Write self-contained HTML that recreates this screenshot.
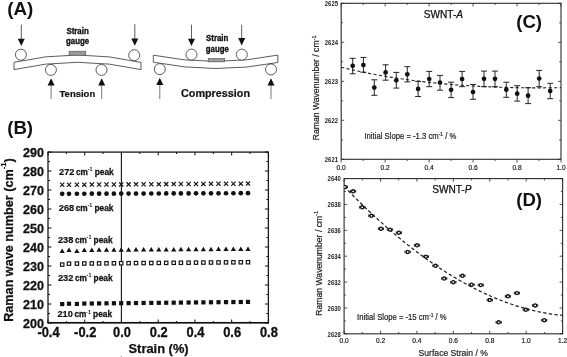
<!DOCTYPE html><html><head><meta charset="utf-8"><style>
html,body{margin:0;padding:0;background:#fff;width:567px;height:357px;overflow:hidden}
svg{display:block;will-change:transform}
text{font-family:"Liberation Sans",sans-serif}
</style></head><body>
<svg width="567" height="357" viewBox="0 0 567 357">
<rect width="567" height="357" fill="#fff"/>
<text x="7.20" y="15.10" font-size="18.8" font-weight="bold" text-anchor="start" fill="#111" >(A)</text>
<path d="M14,62.3 Q77.5,47.7 141,62.4 L141,69.6 Q77.5,55 14,69.6 Z" fill="#fff" stroke="#333" stroke-width="0.8"/>
<rect x="69" y="51.2" width="16.8" height="4" fill="#9a9a9a" stroke="#555" stroke-width="0.6"/>
<circle cx="20.9" cy="54.7" r="5.5" fill="#fff" stroke="#333" stroke-width="0.8"/>
<circle cx="134.2" cy="55.2" r="5.5" fill="#fff" stroke="#333" stroke-width="0.8"/>
<circle cx="50.9" cy="69.9" r="5.5" fill="#fff" stroke="#333" stroke-width="0.8"/>
<circle cx="101.5" cy="69.9" r="5.5" fill="#fff" stroke="#333" stroke-width="0.8"/>
<line x1="21.3" y1="24.5" x2="21.3" y2="40.1" stroke="#333" stroke-width="0.8"/>
<path d="M17.8,38.800000000000004 L24.8,38.800000000000004 L21.3,46.1 Z" fill="#111"/>
<line x1="134.8" y1="24.2" x2="134.8" y2="39.8" stroke="#333" stroke-width="0.8"/>
<path d="M131.3,38.5 L138.3,38.5 L134.8,45.8 Z" fill="#111"/>
<line x1="51.1" y1="99" x2="51.1" y2="84.3" stroke="#555" stroke-width="0.8"/>
<path d="M47.6,85.6 L54.6,85.6 L51.1,78.3 Z" fill="#111"/>
<line x1="101.7" y1="99" x2="101.7" y2="84.3" stroke="#555" stroke-width="0.8"/>
<path d="M98.2,85.6 L105.2,85.6 L101.7,78.3 Z" fill="#111"/>
<text transform="translate(66.40,33.80) scale(0.93,1)" font-size="8.5" font-weight="bold" stroke="#111" stroke-width="0.35" text-anchor="start" fill="#111" >Strain</text>
<text transform="translate(66.10,44.30) scale(0.93,1)" font-size="8.4" font-weight="bold" stroke="#111" stroke-width="0.35" text-anchor="start" fill="#111" >gauge</text>
<text x="59.50" y="96.50" font-size="9.5" font-weight="bold" stroke="#111" stroke-width="0.2" text-anchor="start" fill="#111" >Tension</text>
<path d="M153.3,55.2 Q215.5,67.65 277.8,55.1 L277.8,62.5 Q215.5,74.65 153.3,62.2 Z" fill="#fff" stroke="#333" stroke-width="0.8"/>
<rect x="208.2" y="58.3" width="16.5" height="3.6" fill="#9a9a9a" stroke="#555" stroke-width="0.6"/>
<circle cx="191.5" cy="54.6" r="5.5" fill="#fff" stroke="#333" stroke-width="0.8"/>
<circle cx="241.8" cy="54.6" r="5.5" fill="#fff" stroke="#333" stroke-width="0.8"/>
<circle cx="159.8" cy="69.1" r="5.5" fill="#fff" stroke="#333" stroke-width="0.8"/>
<circle cx="271" cy="69.4" r="5.5" fill="#fff" stroke="#333" stroke-width="0.8"/>
<line x1="191.5" y1="24.7" x2="191.5" y2="40.0" stroke="#333" stroke-width="0.8"/>
<path d="M188.0,38.7 L195.0,38.7 L191.5,46.0 Z" fill="#111"/>
<line x1="241.7" y1="24.7" x2="241.7" y2="39.4" stroke="#333" stroke-width="0.8"/>
<path d="M238.2,38.1 L245.2,38.1 L241.7,45.4 Z" fill="#111"/>
<line x1="159.8" y1="99" x2="159.8" y2="83.7" stroke="#555" stroke-width="0.8"/>
<path d="M156.3,85.0 L163.3,85.0 L159.8,77.7 Z" fill="#111"/>
<line x1="271" y1="99" x2="271" y2="84.3" stroke="#555" stroke-width="0.8"/>
<path d="M267.5,85.6 L274.5,85.6 L271,78.3 Z" fill="#111"/>
<text transform="translate(206.00,41.00) scale(0.93,1)" font-size="8.5" font-weight="bold" stroke="#111" stroke-width="0.35" text-anchor="start" fill="#111" >Strain</text>
<text transform="translate(205.80,52.20) scale(0.93,1)" font-size="8.4" font-weight="bold" stroke="#111" stroke-width="0.35" text-anchor="start" fill="#111" >gauge</text>
<text x="181.00" y="96.70" font-size="10.8" font-weight="bold" stroke="#111" stroke-width="0.2" text-anchor="start" fill="#111" >Compression</text>
<text x="7.20" y="133.70" font-size="18.6" font-weight="bold" text-anchor="start" fill="#111" >(B)</text>
<rect x="48.0" y="152.1" width="220.39999999999998" height="170.50000000000003" fill="none" stroke="#1a1a1a" stroke-width="1.3"/>
<line x1="47.4" y1="322.7" x2="269.0" y2="322.7" stroke="#111" stroke-width="1.6"/>
<line x1="48.0" y1="323.00" x2="51.5" y2="323.00" stroke="#111" stroke-width="1"/>
<line x1="268.4" y1="323.00" x2="264.9" y2="323.00" stroke="#111" stroke-width="1"/>
<text transform="translate(44.00,327.75) scale(0.95,1)" font-size="13.2" font-weight="bold" stroke="#111" stroke-width="0.3" text-anchor="end" fill="#111" >200</text>
<line x1="48.0" y1="313.50" x2="50.0" y2="313.50" stroke="#111" stroke-width="1"/>
<line x1="268.4" y1="313.50" x2="266.4" y2="313.50" stroke="#111" stroke-width="1"/>
<line x1="48.0" y1="304.00" x2="51.5" y2="304.00" stroke="#111" stroke-width="1"/>
<line x1="268.4" y1="304.00" x2="264.9" y2="304.00" stroke="#111" stroke-width="1"/>
<text transform="translate(44.00,308.75) scale(0.95,1)" font-size="13.2" font-weight="bold" stroke="#111" stroke-width="0.3" text-anchor="end" fill="#111" >210</text>
<line x1="48.0" y1="294.50" x2="50.0" y2="294.50" stroke="#111" stroke-width="1"/>
<line x1="268.4" y1="294.50" x2="266.4" y2="294.50" stroke="#111" stroke-width="1"/>
<line x1="48.0" y1="285.00" x2="51.5" y2="285.00" stroke="#111" stroke-width="1"/>
<line x1="268.4" y1="285.00" x2="264.9" y2="285.00" stroke="#111" stroke-width="1"/>
<text transform="translate(44.00,289.75) scale(0.95,1)" font-size="13.2" font-weight="bold" stroke="#111" stroke-width="0.3" text-anchor="end" fill="#111" >220</text>
<line x1="48.0" y1="275.50" x2="50.0" y2="275.50" stroke="#111" stroke-width="1"/>
<line x1="268.4" y1="275.50" x2="266.4" y2="275.50" stroke="#111" stroke-width="1"/>
<line x1="48.0" y1="266.00" x2="51.5" y2="266.00" stroke="#111" stroke-width="1"/>
<line x1="268.4" y1="266.00" x2="264.9" y2="266.00" stroke="#111" stroke-width="1"/>
<text transform="translate(44.00,270.75) scale(0.95,1)" font-size="13.2" font-weight="bold" stroke="#111" stroke-width="0.3" text-anchor="end" fill="#111" >230</text>
<line x1="48.0" y1="256.50" x2="50.0" y2="256.50" stroke="#111" stroke-width="1"/>
<line x1="268.4" y1="256.50" x2="266.4" y2="256.50" stroke="#111" stroke-width="1"/>
<line x1="48.0" y1="247.00" x2="51.5" y2="247.00" stroke="#111" stroke-width="1"/>
<line x1="268.4" y1="247.00" x2="264.9" y2="247.00" stroke="#111" stroke-width="1"/>
<text transform="translate(44.00,251.75) scale(0.95,1)" font-size="13.2" font-weight="bold" stroke="#111" stroke-width="0.3" text-anchor="end" fill="#111" >240</text>
<line x1="48.0" y1="237.50" x2="50.0" y2="237.50" stroke="#111" stroke-width="1"/>
<line x1="268.4" y1="237.50" x2="266.4" y2="237.50" stroke="#111" stroke-width="1"/>
<line x1="48.0" y1="228.00" x2="51.5" y2="228.00" stroke="#111" stroke-width="1"/>
<line x1="268.4" y1="228.00" x2="264.9" y2="228.00" stroke="#111" stroke-width="1"/>
<text transform="translate(44.00,232.75) scale(0.95,1)" font-size="13.2" font-weight="bold" stroke="#111" stroke-width="0.3" text-anchor="end" fill="#111" >250</text>
<line x1="48.0" y1="218.50" x2="50.0" y2="218.50" stroke="#111" stroke-width="1"/>
<line x1="268.4" y1="218.50" x2="266.4" y2="218.50" stroke="#111" stroke-width="1"/>
<line x1="48.0" y1="209.00" x2="51.5" y2="209.00" stroke="#111" stroke-width="1"/>
<line x1="268.4" y1="209.00" x2="264.9" y2="209.00" stroke="#111" stroke-width="1"/>
<text transform="translate(44.00,213.75) scale(0.95,1)" font-size="13.2" font-weight="bold" stroke="#111" stroke-width="0.3" text-anchor="end" fill="#111" >260</text>
<line x1="48.0" y1="199.50" x2="50.0" y2="199.50" stroke="#111" stroke-width="1"/>
<line x1="268.4" y1="199.50" x2="266.4" y2="199.50" stroke="#111" stroke-width="1"/>
<line x1="48.0" y1="190.00" x2="51.5" y2="190.00" stroke="#111" stroke-width="1"/>
<line x1="268.4" y1="190.00" x2="264.9" y2="190.00" stroke="#111" stroke-width="1"/>
<text transform="translate(44.00,194.75) scale(0.95,1)" font-size="13.2" font-weight="bold" stroke="#111" stroke-width="0.3" text-anchor="end" fill="#111" >270</text>
<line x1="48.0" y1="180.50" x2="50.0" y2="180.50" stroke="#111" stroke-width="1"/>
<line x1="268.4" y1="180.50" x2="266.4" y2="180.50" stroke="#111" stroke-width="1"/>
<line x1="48.0" y1="171.00" x2="51.5" y2="171.00" stroke="#111" stroke-width="1"/>
<line x1="268.4" y1="171.00" x2="264.9" y2="171.00" stroke="#111" stroke-width="1"/>
<text transform="translate(44.00,175.75) scale(0.95,1)" font-size="13.2" font-weight="bold" stroke="#111" stroke-width="0.3" text-anchor="end" fill="#111" >280</text>
<line x1="48.0" y1="161.50" x2="50.0" y2="161.50" stroke="#111" stroke-width="1"/>
<line x1="268.4" y1="161.50" x2="266.4" y2="161.50" stroke="#111" stroke-width="1"/>
<line x1="48.0" y1="152.00" x2="51.5" y2="152.00" stroke="#111" stroke-width="1"/>
<line x1="268.4" y1="152.00" x2="264.9" y2="152.00" stroke="#111" stroke-width="1"/>
<text transform="translate(44.00,156.75) scale(0.95,1)" font-size="13.2" font-weight="bold" stroke="#111" stroke-width="0.3" text-anchor="end" fill="#111" >290</text>
<line x1="48.00" y1="323.0" x2="48.00" y2="319.5" stroke="#111" stroke-width="1"/>
<line x1="48.00" y1="152.0" x2="48.00" y2="155.5" stroke="#111" stroke-width="1"/>
<text transform="translate(48.50,337.20) scale(0.935,1)" font-size="13.8" font-weight="bold" stroke="#111" stroke-width="0.3" text-anchor="middle" fill="#111" >-0.4</text>
<line x1="66.37" y1="323.0" x2="66.37" y2="321.0" stroke="#111" stroke-width="1"/>
<line x1="66.37" y1="152.0" x2="66.37" y2="154.0" stroke="#111" stroke-width="1"/>
<line x1="84.73" y1="323.0" x2="84.73" y2="319.5" stroke="#111" stroke-width="1"/>
<line x1="84.73" y1="152.0" x2="84.73" y2="155.5" stroke="#111" stroke-width="1"/>
<text transform="translate(85.23,337.20) scale(0.935,1)" font-size="13.8" font-weight="bold" stroke="#111" stroke-width="0.3" text-anchor="middle" fill="#111" >-0.2</text>
<line x1="103.10" y1="323.0" x2="103.10" y2="321.0" stroke="#111" stroke-width="1"/>
<line x1="103.10" y1="152.0" x2="103.10" y2="154.0" stroke="#111" stroke-width="1"/>
<line x1="121.47" y1="323.0" x2="121.47" y2="319.5" stroke="#111" stroke-width="1"/>
<line x1="121.47" y1="152.0" x2="121.47" y2="155.5" stroke="#111" stroke-width="1"/>
<text transform="translate(121.97,337.20) scale(0.935,1)" font-size="13.8" font-weight="bold" stroke="#111" stroke-width="0.3" text-anchor="middle" fill="#111" >0.0</text>
<line x1="139.83" y1="323.0" x2="139.83" y2="321.0" stroke="#111" stroke-width="1"/>
<line x1="139.83" y1="152.0" x2="139.83" y2="154.0" stroke="#111" stroke-width="1"/>
<line x1="158.20" y1="323.0" x2="158.20" y2="319.5" stroke="#111" stroke-width="1"/>
<line x1="158.20" y1="152.0" x2="158.20" y2="155.5" stroke="#111" stroke-width="1"/>
<text transform="translate(158.70,337.20) scale(0.935,1)" font-size="13.8" font-weight="bold" stroke="#111" stroke-width="0.3" text-anchor="middle" fill="#111" >0.2</text>
<line x1="176.57" y1="323.0" x2="176.57" y2="321.0" stroke="#111" stroke-width="1"/>
<line x1="176.57" y1="152.0" x2="176.57" y2="154.0" stroke="#111" stroke-width="1"/>
<line x1="194.93" y1="323.0" x2="194.93" y2="319.5" stroke="#111" stroke-width="1"/>
<line x1="194.93" y1="152.0" x2="194.93" y2="155.5" stroke="#111" stroke-width="1"/>
<text transform="translate(195.43,337.20) scale(0.935,1)" font-size="13.8" font-weight="bold" stroke="#111" stroke-width="0.3" text-anchor="middle" fill="#111" >0.4</text>
<line x1="213.30" y1="323.0" x2="213.30" y2="321.0" stroke="#111" stroke-width="1"/>
<line x1="213.30" y1="152.0" x2="213.30" y2="154.0" stroke="#111" stroke-width="1"/>
<line x1="231.67" y1="323.0" x2="231.67" y2="319.5" stroke="#111" stroke-width="1"/>
<line x1="231.67" y1="152.0" x2="231.67" y2="155.5" stroke="#111" stroke-width="1"/>
<text transform="translate(232.17,337.20) scale(0.935,1)" font-size="13.8" font-weight="bold" stroke="#111" stroke-width="0.3" text-anchor="middle" fill="#111" >0.6</text>
<line x1="250.03" y1="323.0" x2="250.03" y2="321.0" stroke="#111" stroke-width="1"/>
<line x1="250.03" y1="152.0" x2="250.03" y2="154.0" stroke="#111" stroke-width="1"/>
<line x1="268.40" y1="323.0" x2="268.40" y2="319.5" stroke="#111" stroke-width="1"/>
<line x1="268.40" y1="152.0" x2="268.40" y2="155.5" stroke="#111" stroke-width="1"/>
<text transform="translate(268.90,337.20) scale(0.935,1)" font-size="13.8" font-weight="bold" stroke="#111" stroke-width="0.3" text-anchor="middle" fill="#111" >0.8</text>
<line x1="121.4" y1="152.0" x2="121.4" y2="323.0" stroke="#111" stroke-width="1.1"/>
<text x="128.50" y="352.50" font-size="12.9" font-weight="bold" stroke="#111" stroke-width="0.25" text-anchor="start" fill="#111" >Strain (%)</text>
<text transform="translate(13.1,240.1) rotate(-90) scale(0.945,1)" font-size="13.4" font-weight="bold" text-anchor="middle" fill="#111" stroke="#111" stroke-width="0.25">Raman wave number (cm<tspan font-size="8" dy="-7">-1</tspan><tspan dy="7">)</tspan></text>
<circle cx="121.3" cy="356.4" r="0.7" fill="#999"/>
<text transform="translate(59.10,174.60) scale(0.95,1)" font-size="9.7" font-weight="bold" fill="#111" stroke="#111" stroke-width="0.2">272</text>
<text transform="translate(76.00,174.60) scale(0.86,1)" font-size="9.6" font-weight="bold" fill="#111" stroke="#111" stroke-width="0.3">cm</text>
<text x="87.70" y="170.90" font-size="5.4" font-weight="bold" fill="#111">-1</text>
<text transform="translate(94.70,174.60) scale(0.87,1)" font-size="9.6" font-weight="bold" fill="#111" stroke="#111" stroke-width="0.3">peak</text>
<text transform="translate(58.80,210.80) scale(0.95,1)" font-size="9.7" font-weight="bold" fill="#111" stroke="#111" stroke-width="0.2">268</text>
<text transform="translate(75.70,210.80) scale(0.86,1)" font-size="9.6" font-weight="bold" fill="#111" stroke="#111" stroke-width="0.3">cm</text>
<text x="87.40" y="207.10" font-size="5.4" font-weight="bold" fill="#111">-1</text>
<text transform="translate(94.40,210.80) scale(0.87,1)" font-size="9.6" font-weight="bold" fill="#111" stroke="#111" stroke-width="0.3">peak</text>
<text transform="translate(58.00,242.80) scale(0.95,1)" font-size="9.7" font-weight="bold" fill="#111" stroke="#111" stroke-width="0.2">238</text>
<text transform="translate(74.90,242.80) scale(0.86,1)" font-size="9.6" font-weight="bold" fill="#111" stroke="#111" stroke-width="0.3">cm</text>
<text x="86.60" y="239.10" font-size="5.4" font-weight="bold" fill="#111">-1</text>
<text transform="translate(93.60,242.80) scale(0.87,1)" font-size="9.6" font-weight="bold" fill="#111" stroke="#111" stroke-width="0.3">peak</text>
<text transform="translate(58.00,280.70) scale(0.95,1)" font-size="9.7" font-weight="bold" fill="#111" stroke="#111" stroke-width="0.2">232</text>
<text transform="translate(74.90,280.70) scale(0.86,1)" font-size="9.6" font-weight="bold" fill="#111" stroke="#111" stroke-width="0.3">cm</text>
<text x="86.60" y="277.00" font-size="5.4" font-weight="bold" fill="#111">-1</text>
<text transform="translate(93.60,280.70) scale(0.87,1)" font-size="9.6" font-weight="bold" fill="#111" stroke="#111" stroke-width="0.3">peak</text>
<text transform="translate(57.50,317.20) scale(0.95,1)" font-size="9.7" font-weight="bold" fill="#111" stroke="#111" stroke-width="0.2">210</text>
<text transform="translate(74.40,317.20) scale(0.86,1)" font-size="9.6" font-weight="bold" fill="#111" stroke="#111" stroke-width="0.3">cm</text>
<text x="86.10" y="313.50" font-size="5.4" font-weight="bold" fill="#111">-1</text>
<text transform="translate(93.10,317.20) scale(0.87,1)" font-size="9.6" font-weight="bold" fill="#111" stroke="#111" stroke-width="0.3">peak</text>
<path d="M60.10,182.70 L64.30,186.90 M60.10,186.90 L64.30,182.70" stroke="#111" stroke-width="1.15"/>
<circle cx="62.20" cy="193.80" r="2.35" fill="#111"/>
<path d="M59.60,253.10 L64.80,253.10 L62.20,248.60 Z" fill="#111"/>
<rect x="60.50" y="262.90" width="3.4" height="3.4" fill="#fff" stroke="#111" stroke-width="1.15"/>
<rect x="60.10" y="302.00" width="4.2" height="4.2" fill="#111"/>
<path d="M66.90,182.65 L71.10,186.85 M66.90,186.85 L71.10,182.65" stroke="#111" stroke-width="1.15"/>
<circle cx="69.00" cy="193.78" r="2.35" fill="#111"/>
<path d="M66.40,252.05 L71.60,252.05 L69.00,247.55 Z" fill="#111"/>
<rect x="67.30" y="261.94" width="3.4" height="3.4" fill="#fff" stroke="#111" stroke-width="1.15"/>
<rect x="66.90" y="301.62" width="4.2" height="4.2" fill="#111"/>
<path d="M74.80,182.60 L79.00,186.80 M74.80,186.80 L79.00,182.60" stroke="#111" stroke-width="1.15"/>
<circle cx="76.90" cy="193.75" r="2.35" fill="#111"/>
<path d="M74.30,253.00 L79.50,253.00 L76.90,248.50 Z" fill="#111"/>
<rect x="75.20" y="261.88" width="3.4" height="3.4" fill="#fff" stroke="#111" stroke-width="1.15"/>
<rect x="74.80" y="301.85" width="4.2" height="4.2" fill="#111"/>
<path d="M82.20,182.56 L86.40,186.76 M82.20,186.76 L86.40,182.56" stroke="#111" stroke-width="1.15"/>
<circle cx="84.30" cy="193.73" r="2.35" fill="#111"/>
<path d="M81.70,251.96 L86.90,251.96 L84.30,247.46 Z" fill="#111"/>
<rect x="82.60" y="261.82" width="3.4" height="3.4" fill="#fff" stroke="#111" stroke-width="1.15"/>
<rect x="82.20" y="301.47" width="4.2" height="4.2" fill="#111"/>
<path d="M89.70,182.51 L93.90,186.71 M89.70,186.71 L93.90,182.51" stroke="#111" stroke-width="1.15"/>
<circle cx="91.80" cy="193.70" r="2.35" fill="#111"/>
<path d="M89.20,251.91 L94.40,251.91 L91.80,247.41 Z" fill="#111"/>
<rect x="90.10" y="261.76" width="3.4" height="3.4" fill="#fff" stroke="#111" stroke-width="1.15"/>
<rect x="89.70" y="301.40" width="4.2" height="4.2" fill="#111"/>
<path d="M97.00,182.46 L101.20,186.66 M97.00,186.66 L101.20,182.46" stroke="#111" stroke-width="1.15"/>
<circle cx="99.10" cy="193.68" r="2.35" fill="#111"/>
<path d="M96.50,251.86 L101.70,251.86 L99.10,247.36 Z" fill="#111"/>
<rect x="97.40" y="261.70" width="3.4" height="3.4" fill="#fff" stroke="#111" stroke-width="1.15"/>
<rect x="97.00" y="301.32" width="4.2" height="4.2" fill="#111"/>
<path d="M104.40,182.41 L108.60,186.61 M104.40,186.61 L108.60,182.41" stroke="#111" stroke-width="1.15"/>
<circle cx="106.50" cy="193.66" r="2.35" fill="#111"/>
<path d="M103.90,251.81 L109.10,251.81 L106.50,247.31 Z" fill="#111"/>
<rect x="104.80" y="261.64" width="3.4" height="3.4" fill="#fff" stroke="#111" stroke-width="1.15"/>
<rect x="104.40" y="301.24" width="4.2" height="4.2" fill="#111"/>
<path d="M111.80,182.36 L116.00,186.56 M111.80,186.56 L116.00,182.36" stroke="#111" stroke-width="1.15"/>
<circle cx="113.90" cy="193.63" r="2.35" fill="#111"/>
<path d="M111.30,251.76 L116.50,251.76 L113.90,247.26 Z" fill="#111"/>
<rect x="112.20" y="261.58" width="3.4" height="3.4" fill="#fff" stroke="#111" stroke-width="1.15"/>
<rect x="111.80" y="301.17" width="4.2" height="4.2" fill="#111"/>
<path d="M119.10,182.32 L123.30,186.52 M119.10,186.52 L123.30,182.32" stroke="#111" stroke-width="1.15"/>
<circle cx="121.20" cy="193.61" r="2.35" fill="#111"/>
<path d="M118.60,251.72 L123.80,251.72 L121.20,247.22 Z" fill="#111"/>
<rect x="119.50" y="261.52" width="3.4" height="3.4" fill="#fff" stroke="#111" stroke-width="1.15"/>
<rect x="119.10" y="301.09" width="4.2" height="4.2" fill="#111"/>
<path d="M126.50,182.27 L130.70,186.47 M126.50,186.47 L130.70,182.27" stroke="#111" stroke-width="1.15"/>
<circle cx="128.60" cy="193.58" r="2.35" fill="#111"/>
<path d="M126.00,251.67 L131.20,251.67 L128.60,247.17 Z" fill="#111"/>
<rect x="126.90" y="261.46" width="3.4" height="3.4" fill="#fff" stroke="#111" stroke-width="1.15"/>
<rect x="126.50" y="301.02" width="4.2" height="4.2" fill="#111"/>
<path d="M133.90,182.22 L138.10,186.42 M133.90,186.42 L138.10,182.22" stroke="#111" stroke-width="1.15"/>
<circle cx="136.00" cy="193.56" r="2.35" fill="#111"/>
<path d="M133.40,251.62 L138.60,251.62 L136.00,247.12 Z" fill="#111"/>
<rect x="134.30" y="261.40" width="3.4" height="3.4" fill="#fff" stroke="#111" stroke-width="1.15"/>
<rect x="133.90" y="300.94" width="4.2" height="4.2" fill="#111"/>
<path d="M141.50,182.17 L145.70,186.37 M141.50,186.37 L145.70,182.17" stroke="#111" stroke-width="1.15"/>
<circle cx="143.60" cy="193.54" r="2.35" fill="#111"/>
<path d="M141.00,251.57 L146.20,251.57 L143.60,247.07 Z" fill="#111"/>
<rect x="141.90" y="261.34" width="3.4" height="3.4" fill="#fff" stroke="#111" stroke-width="1.15"/>
<rect x="141.50" y="300.86" width="4.2" height="4.2" fill="#111"/>
<path d="M149.20,182.12 L153.40,186.32 M149.20,186.32 L153.40,182.12" stroke="#111" stroke-width="1.15"/>
<circle cx="151.30" cy="193.51" r="2.35" fill="#111"/>
<path d="M148.70,251.52 L153.90,251.52 L151.30,247.02 Z" fill="#111"/>
<rect x="149.60" y="261.28" width="3.4" height="3.4" fill="#fff" stroke="#111" stroke-width="1.15"/>
<rect x="149.20" y="300.79" width="4.2" height="4.2" fill="#111"/>
<path d="M156.70,182.08 L160.90,186.28 M156.70,186.28 L160.90,182.08" stroke="#111" stroke-width="1.15"/>
<circle cx="158.80" cy="193.49" r="2.35" fill="#111"/>
<path d="M156.20,251.48 L161.40,251.48 L158.80,246.98 Z" fill="#111"/>
<rect x="157.10" y="261.22" width="3.4" height="3.4" fill="#fff" stroke="#111" stroke-width="1.15"/>
<rect x="156.70" y="300.71" width="4.2" height="4.2" fill="#111"/>
<path d="M164.10,182.03 L168.30,186.23 M164.10,186.23 L168.30,182.03" stroke="#111" stroke-width="1.15"/>
<circle cx="166.20" cy="193.46" r="2.35" fill="#111"/>
<path d="M163.60,251.43 L168.80,251.43 L166.20,246.93 Z" fill="#111"/>
<rect x="164.50" y="261.16" width="3.4" height="3.4" fill="#fff" stroke="#111" stroke-width="1.15"/>
<rect x="164.10" y="300.64" width="4.2" height="4.2" fill="#111"/>
<path d="M171.60,181.98 L175.80,186.18 M171.60,186.18 L175.80,181.98" stroke="#111" stroke-width="1.15"/>
<circle cx="173.70" cy="193.44" r="2.35" fill="#111"/>
<path d="M171.10,251.38 L176.30,251.38 L173.70,246.88 Z" fill="#111"/>
<rect x="172.00" y="261.10" width="3.4" height="3.4" fill="#fff" stroke="#111" stroke-width="1.15"/>
<rect x="171.60" y="300.56" width="4.2" height="4.2" fill="#111"/>
<path d="M178.80,181.93 L183.00,186.13 M178.80,186.13 L183.00,181.93" stroke="#111" stroke-width="1.15"/>
<circle cx="180.90" cy="193.42" r="2.35" fill="#111"/>
<path d="M178.30,251.33 L183.50,251.33 L180.90,246.83 Z" fill="#111"/>
<rect x="179.20" y="261.04" width="3.4" height="3.4" fill="#fff" stroke="#111" stroke-width="1.15"/>
<rect x="178.80" y="300.48" width="4.2" height="4.2" fill="#111"/>
<path d="M186.50,181.88 L190.70,186.08 M186.50,186.08 L190.70,181.88" stroke="#111" stroke-width="1.15"/>
<circle cx="188.60" cy="193.39" r="2.35" fill="#111"/>
<path d="M186.00,251.28 L191.20,251.28 L188.60,246.78 Z" fill="#111"/>
<rect x="186.90" y="260.98" width="3.4" height="3.4" fill="#fff" stroke="#111" stroke-width="1.15"/>
<rect x="186.50" y="300.41" width="4.2" height="4.2" fill="#111"/>
<path d="M193.90,181.84 L198.10,186.04 M193.90,186.04 L198.10,181.84" stroke="#111" stroke-width="1.15"/>
<circle cx="196.00" cy="193.37" r="2.35" fill="#111"/>
<path d="M193.40,251.24 L198.60,251.24 L196.00,246.74 Z" fill="#111"/>
<rect x="194.30" y="260.92" width="3.4" height="3.4" fill="#fff" stroke="#111" stroke-width="1.15"/>
<rect x="193.90" y="300.33" width="4.2" height="4.2" fill="#111"/>
<path d="M201.30,181.79 L205.50,185.99 M201.30,185.99 L205.50,181.79" stroke="#111" stroke-width="1.15"/>
<circle cx="203.40" cy="193.34" r="2.35" fill="#111"/>
<path d="M200.80,251.19 L206.00,251.19 L203.40,246.69 Z" fill="#111"/>
<rect x="201.70" y="260.86" width="3.4" height="3.4" fill="#fff" stroke="#111" stroke-width="1.15"/>
<rect x="201.30" y="300.26" width="4.2" height="4.2" fill="#111"/>
<path d="M208.90,181.74 L213.10,185.94 M208.90,185.94 L213.10,181.74" stroke="#111" stroke-width="1.15"/>
<circle cx="211.00" cy="193.32" r="2.35" fill="#111"/>
<path d="M208.40,251.14 L213.60,251.14 L211.00,246.64 Z" fill="#111"/>
<rect x="209.30" y="260.80" width="3.4" height="3.4" fill="#fff" stroke="#111" stroke-width="1.15"/>
<rect x="208.90" y="300.18" width="4.2" height="4.2" fill="#111"/>
<path d="M216.40,181.69 L220.60,185.89 M216.40,185.89 L220.60,181.69" stroke="#111" stroke-width="1.15"/>
<circle cx="218.50" cy="193.30" r="2.35" fill="#111"/>
<path d="M215.90,251.09 L221.10,251.09 L218.50,246.59 Z" fill="#111"/>
<rect x="216.80" y="260.74" width="3.4" height="3.4" fill="#fff" stroke="#111" stroke-width="1.15"/>
<rect x="216.40" y="300.10" width="4.2" height="4.2" fill="#111"/>
<path d="M223.90,181.64 L228.10,185.84 M223.90,185.84 L228.10,181.64" stroke="#111" stroke-width="1.15"/>
<circle cx="226.00" cy="193.27" r="2.35" fill="#111"/>
<path d="M223.40,251.04 L228.60,251.04 L226.00,246.54 Z" fill="#111"/>
<rect x="224.30" y="260.68" width="3.4" height="3.4" fill="#fff" stroke="#111" stroke-width="1.15"/>
<rect x="223.90" y="300.03" width="4.2" height="4.2" fill="#111"/>
<path d="M231.30,181.60 L235.50,185.80 M231.30,185.80 L235.50,181.60" stroke="#111" stroke-width="1.15"/>
<circle cx="233.40" cy="193.25" r="2.35" fill="#111"/>
<path d="M230.80,251.00 L236.00,251.00 L233.40,246.50 Z" fill="#111"/>
<rect x="231.70" y="260.62" width="3.4" height="3.4" fill="#fff" stroke="#111" stroke-width="1.15"/>
<rect x="231.30" y="299.95" width="4.2" height="4.2" fill="#111"/>
<path d="M238.70,181.55 L242.90,185.75 M238.70,185.75 L242.90,181.55" stroke="#111" stroke-width="1.15"/>
<circle cx="240.80" cy="193.22" r="2.35" fill="#111"/>
<path d="M238.20,250.95 L243.40,250.95 L240.80,246.45 Z" fill="#111"/>
<rect x="239.10" y="260.56" width="3.4" height="3.4" fill="#fff" stroke="#111" stroke-width="1.15"/>
<rect x="238.70" y="299.88" width="4.2" height="4.2" fill="#111"/>
<path d="M245.90,181.50 L250.10,185.70 M245.90,185.70 L250.10,181.50" stroke="#111" stroke-width="1.15"/>
<circle cx="248.00" cy="193.20" r="2.35" fill="#111"/>
<path d="M245.40,250.90 L250.60,250.90 L248.00,246.40 Z" fill="#111"/>
<rect x="246.30" y="260.50" width="3.4" height="3.4" fill="#fff" stroke="#111" stroke-width="1.15"/>
<rect x="245.90" y="299.80" width="4.2" height="4.2" fill="#111"/>
<rect x="341.2" y="3.3" width="219.8" height="156.0" fill="none" stroke="#2a2a2a" stroke-width="1.1"/>
<line x1="341.2" y1="159.30" x2="344.2" y2="159.30" stroke="#2a2a2a" stroke-width="0.8"/>
<line x1="561.0" y1="159.30" x2="558.0" y2="159.30" stroke="#2a2a2a" stroke-width="0.8"/>
<text transform="translate(338.00,161.80) scale(0.9,1)" font-size="6.6" font-weight="bold" text-anchor="end" fill="#222" >2621</text>
<line x1="341.2" y1="139.80" x2="343.0" y2="139.80" stroke="#2a2a2a" stroke-width="0.8"/>
<line x1="561.0" y1="139.80" x2="559.2" y2="139.80" stroke="#2a2a2a" stroke-width="0.8"/>
<line x1="341.2" y1="120.30" x2="344.2" y2="120.30" stroke="#2a2a2a" stroke-width="0.8"/>
<line x1="561.0" y1="120.30" x2="558.0" y2="120.30" stroke="#2a2a2a" stroke-width="0.8"/>
<text transform="translate(338.00,122.80) scale(0.9,1)" font-size="6.6" font-weight="bold" text-anchor="end" fill="#222" >2622</text>
<line x1="341.2" y1="100.80" x2="343.0" y2="100.80" stroke="#2a2a2a" stroke-width="0.8"/>
<line x1="561.0" y1="100.80" x2="559.2" y2="100.80" stroke="#2a2a2a" stroke-width="0.8"/>
<line x1="341.2" y1="81.30" x2="344.2" y2="81.30" stroke="#2a2a2a" stroke-width="0.8"/>
<line x1="561.0" y1="81.30" x2="558.0" y2="81.30" stroke="#2a2a2a" stroke-width="0.8"/>
<text transform="translate(338.00,83.80) scale(0.9,1)" font-size="6.6" font-weight="bold" text-anchor="end" fill="#222" >2623</text>
<line x1="341.2" y1="61.80" x2="343.0" y2="61.80" stroke="#2a2a2a" stroke-width="0.8"/>
<line x1="561.0" y1="61.80" x2="559.2" y2="61.80" stroke="#2a2a2a" stroke-width="0.8"/>
<line x1="341.2" y1="42.30" x2="344.2" y2="42.30" stroke="#2a2a2a" stroke-width="0.8"/>
<line x1="561.0" y1="42.30" x2="558.0" y2="42.30" stroke="#2a2a2a" stroke-width="0.8"/>
<text transform="translate(338.00,44.80) scale(0.9,1)" font-size="6.6" font-weight="bold" text-anchor="end" fill="#222" >2624</text>
<line x1="341.2" y1="22.80" x2="343.0" y2="22.80" stroke="#2a2a2a" stroke-width="0.8"/>
<line x1="561.0" y1="22.80" x2="559.2" y2="22.80" stroke="#2a2a2a" stroke-width="0.8"/>
<line x1="341.2" y1="3.30" x2="344.2" y2="3.30" stroke="#2a2a2a" stroke-width="0.8"/>
<line x1="561.0" y1="3.30" x2="558.0" y2="3.30" stroke="#2a2a2a" stroke-width="0.8"/>
<text transform="translate(338.00,5.80) scale(0.9,1)" font-size="6.6" font-weight="bold" text-anchor="end" fill="#222" >2625</text>
<line x1="341.20" y1="159.3" x2="341.20" y2="162.5" stroke="#2a2a2a" stroke-width="0.8"/>
<line x1="341.20" y1="3.3" x2="341.20" y2="6.5" stroke="#2a2a2a" stroke-width="0.8"/>
<text x="341.20" y="170.00" font-size="6.6" stroke="#222" stroke-width="0.2" text-anchor="middle" fill="#222" >0.0</text>
<line x1="363.18" y1="159.3" x2="363.18" y2="161.10000000000002" stroke="#2a2a2a" stroke-width="0.8"/>
<line x1="363.18" y1="3.3" x2="363.18" y2="5.1" stroke="#2a2a2a" stroke-width="0.8"/>
<line x1="385.16" y1="159.3" x2="385.16" y2="162.5" stroke="#2a2a2a" stroke-width="0.8"/>
<line x1="385.16" y1="3.3" x2="385.16" y2="6.5" stroke="#2a2a2a" stroke-width="0.8"/>
<text x="385.16" y="170.00" font-size="6.6" stroke="#222" stroke-width="0.2" text-anchor="middle" fill="#222" >0.2</text>
<line x1="407.14" y1="159.3" x2="407.14" y2="161.10000000000002" stroke="#2a2a2a" stroke-width="0.8"/>
<line x1="407.14" y1="3.3" x2="407.14" y2="5.1" stroke="#2a2a2a" stroke-width="0.8"/>
<line x1="429.12" y1="159.3" x2="429.12" y2="162.5" stroke="#2a2a2a" stroke-width="0.8"/>
<line x1="429.12" y1="3.3" x2="429.12" y2="6.5" stroke="#2a2a2a" stroke-width="0.8"/>
<text x="429.12" y="170.00" font-size="6.6" stroke="#222" stroke-width="0.2" text-anchor="middle" fill="#222" >0.4</text>
<line x1="451.10" y1="159.3" x2="451.10" y2="161.10000000000002" stroke="#2a2a2a" stroke-width="0.8"/>
<line x1="451.10" y1="3.3" x2="451.10" y2="5.1" stroke="#2a2a2a" stroke-width="0.8"/>
<line x1="473.08" y1="159.3" x2="473.08" y2="162.5" stroke="#2a2a2a" stroke-width="0.8"/>
<line x1="473.08" y1="3.3" x2="473.08" y2="6.5" stroke="#2a2a2a" stroke-width="0.8"/>
<text x="473.08" y="170.00" font-size="6.6" stroke="#222" stroke-width="0.2" text-anchor="middle" fill="#222" >0.6</text>
<line x1="495.06" y1="159.3" x2="495.06" y2="161.10000000000002" stroke="#2a2a2a" stroke-width="0.8"/>
<line x1="495.06" y1="3.3" x2="495.06" y2="5.1" stroke="#2a2a2a" stroke-width="0.8"/>
<line x1="517.04" y1="159.3" x2="517.04" y2="162.5" stroke="#2a2a2a" stroke-width="0.8"/>
<line x1="517.04" y1="3.3" x2="517.04" y2="6.5" stroke="#2a2a2a" stroke-width="0.8"/>
<text x="517.04" y="170.00" font-size="6.6" stroke="#222" stroke-width="0.2" text-anchor="middle" fill="#222" >0.8</text>
<line x1="539.02" y1="159.3" x2="539.02" y2="161.10000000000002" stroke="#2a2a2a" stroke-width="0.8"/>
<line x1="539.02" y1="3.3" x2="539.02" y2="5.1" stroke="#2a2a2a" stroke-width="0.8"/>
<line x1="561.00" y1="159.3" x2="561.00" y2="162.5" stroke="#2a2a2a" stroke-width="0.8"/>
<line x1="561.00" y1="3.3" x2="561.00" y2="6.5" stroke="#2a2a2a" stroke-width="0.8"/>
<text x="561.00" y="170.00" font-size="6.6" stroke="#222" stroke-width="0.2" text-anchor="middle" fill="#222" >1.0</text>
<text x="423.80" y="17.90" font-size="10.1" stroke="#111" stroke-width="0.25" text-anchor="start" fill="#111" >SWNT-<tspan font-style="italic">A</tspan></text>
<text x="516.20" y="27.50" font-size="18.6" font-weight="bold" text-anchor="start" fill="#111" >(C)</text>
<text transform="translate(318.8,87.9) rotate(-90)" font-size="8.65" text-anchor="middle" fill="#222" stroke="#222" stroke-width="0.2">Raman Wavenumber / cm<tspan font-size="5.5" dy="-3.2">-1</tspan></text>
<text x="364.4" y="139.1" font-size="8.6" fill="#222" stroke="#222" stroke-width="0.2" textLength="92" lengthAdjust="spacingAndGlyphs">Initial Slope = -1.3 cm<tspan font-size="5.5" dy="-3.2">-1</tspan><tspan dy="3.2"> / %</tspan></text>
<polyline points="341.20,67.31 343.40,67.83 345.60,68.35 347.79,68.85 349.99,69.35 352.19,69.84 354.39,70.32 356.59,70.79 358.78,71.26 360.98,71.72 363.18,72.17 365.38,72.61 367.58,73.05 369.77,73.48 371.97,73.90 374.17,74.31 376.37,74.72 378.57,75.12 380.76,75.51 382.96,75.89 385.16,76.27 387.36,76.64 389.56,77.00 391.75,77.36 393.95,77.71 396.15,78.05 398.35,78.38 400.55,78.71 402.74,79.03 404.94,79.35 407.14,79.66 409.34,79.96 411.54,80.25 413.73,80.54 415.93,80.82 418.13,81.10 420.33,81.37 422.53,81.63 424.72,81.89 426.92,82.14 429.12,82.38 431.32,82.62 433.52,82.85 435.71,83.07 437.91,83.29 440.11,83.51 442.31,83.72 444.51,83.92 446.70,84.11 448.90,84.31 451.10,84.49 453.30,84.67 455.50,84.84 457.69,85.01 459.89,85.17 462.09,85.33 464.29,85.48 466.49,85.63 468.68,85.77 470.88,85.91 473.08,86.04 475.28,86.17 477.48,86.29 479.67,86.40 481.87,86.51 484.07,86.62 486.27,86.72 488.47,86.82 490.66,86.91 492.86,87.00 495.06,87.08 497.26,87.16 499.46,87.23 501.65,87.30 503.85,87.36 506.05,87.42 508.25,87.48 510.45,87.53 512.64,87.58 514.84,87.62 517.04,87.66 519.24,87.70 521.44,87.73 523.63,87.75 525.83,87.78 528.03,87.80 530.23,87.81 532.43,87.83 534.62,87.83 536.82,87.84 539.02,87.84 541.22,87.84 543.42,87.83 545.61,87.82 547.81,87.81 550.01,87.80 552.21,87.78 554.41,87.76 556.60,87.73 558.80,87.71 561.00,87.67" fill="none" stroke="#222" stroke-width="1.1" stroke-dasharray="3.1,2.4"/>
<path d="M352.7,58.3 L352.7,73.8 M349.7,58.3 L355.7,58.3 M349.7,73.8 L355.7,73.8" stroke="#1a1a1a" stroke-width="0.95"/>
<circle cx="352.7" cy="65.8" r="2.35" fill="#111"/>
<path d="M363.4,57.4 L363.4,72.2 M360.4,57.4 L366.4,57.4 M360.4,72.2 L366.4,72.2" stroke="#1a1a1a" stroke-width="0.95"/>
<circle cx="363.4" cy="65.0" r="2.35" fill="#111"/>
<path d="M374.3,79.8 L374.3,95.3 M371.3,79.8 L377.3,79.8 M371.3,95.3 L377.3,95.3" stroke="#1a1a1a" stroke-width="0.95"/>
<circle cx="374.3" cy="87.6" r="2.35" fill="#111"/>
<path d="M385.6,64.8 L385.6,80.2 M382.6,64.8 L388.6,64.8 M382.6,80.2 L388.6,80.2" stroke="#1a1a1a" stroke-width="0.95"/>
<circle cx="385.6" cy="72.4" r="2.35" fill="#111"/>
<path d="M396.3,72.4 L396.3,88.1 M393.3,72.4 L399.3,72.4 M393.3,88.1 L399.3,88.1" stroke="#1a1a1a" stroke-width="0.95"/>
<circle cx="396.3" cy="80.3" r="2.35" fill="#111"/>
<path d="M407.3,66.7 L407.3,81.9 M404.3,66.7 L410.3,66.7 M404.3,81.9 L410.3,81.9" stroke="#1a1a1a" stroke-width="0.95"/>
<circle cx="407.3" cy="74.3" r="2.35" fill="#111"/>
<path d="M418.1,81.4 L418.1,96.5 M415.1,81.4 L421.1,81.4 M415.1,96.5 L421.1,96.5" stroke="#1a1a1a" stroke-width="0.95"/>
<circle cx="418.1" cy="88.9" r="2.35" fill="#111"/>
<path d="M429.2,71.4 L429.2,86.7 M426.2,71.4 L432.2,71.4 M426.2,86.7 L432.2,86.7" stroke="#1a1a1a" stroke-width="0.95"/>
<circle cx="429.2" cy="79.0" r="2.35" fill="#111"/>
<path d="M440.0,75.4 L440.0,90.2 M437.0,75.4 L443.0,75.4 M437.0,90.2 L443.0,90.2" stroke="#1a1a1a" stroke-width="0.95"/>
<circle cx="440.0" cy="82.5" r="2.35" fill="#111"/>
<path d="M451.1,82.2 L451.1,97.6 M448.1,82.2 L454.1,82.2 M448.1,97.6 L454.1,97.6" stroke="#1a1a1a" stroke-width="0.95"/>
<circle cx="451.1" cy="89.8" r="2.35" fill="#111"/>
<path d="M462.1,71.4 L462.1,86.7 M459.1,71.4 L465.1,71.4 M459.1,86.7 L465.1,86.7" stroke="#1a1a1a" stroke-width="0.95"/>
<circle cx="462.1" cy="79.0" r="2.35" fill="#111"/>
<path d="M473.0,84.5 L473.0,99.3 M470.0,84.5 L476.0,84.5 M470.0,99.3 L476.0,99.3" stroke="#1a1a1a" stroke-width="0.95"/>
<circle cx="473.0" cy="92.0" r="2.35" fill="#111"/>
<path d="M484.0,71.1 L484.0,86.7 M481.0,71.1 L487.0,71.1 M481.0,86.7 L487.0,86.7" stroke="#1a1a1a" stroke-width="0.95"/>
<circle cx="484.0" cy="78.8" r="2.35" fill="#111"/>
<path d="M495.0,71.1 L495.0,86.7 M492.0,71.1 L498.0,71.1 M492.0,86.7 L498.0,86.7" stroke="#1a1a1a" stroke-width="0.95"/>
<circle cx="495.0" cy="78.8" r="2.35" fill="#111"/>
<path d="M506.3,82.2 L506.3,97.3 M503.3,82.2 L509.3,82.2 M503.3,97.3 L509.3,97.3" stroke="#1a1a1a" stroke-width="0.95"/>
<circle cx="506.3" cy="89.7" r="2.35" fill="#111"/>
<path d="M517.2,85.7 L517.2,101.1 M514.2,85.7 L520.2,85.7 M514.2,101.1 L520.2,101.1" stroke="#1a1a1a" stroke-width="0.95"/>
<circle cx="517.2" cy="93.7" r="2.35" fill="#111"/>
<path d="M528.1,87.7 L528.1,103.6 M525.1,87.7 L531.1,87.7 M525.1,103.6 L531.1,103.6" stroke="#1a1a1a" stroke-width="0.95"/>
<circle cx="528.1" cy="95.7" r="2.35" fill="#111"/>
<path d="M539.2,70.4 L539.2,86.7 M536.2,70.4 L542.2,70.4 M536.2,86.7 L542.2,86.7" stroke="#1a1a1a" stroke-width="0.95"/>
<circle cx="539.2" cy="78.5" r="2.35" fill="#111"/>
<path d="M550.2,83.3 L550.2,98.7 M547.2,83.3 L553.2,83.3 M547.2,98.7 L553.2,98.7" stroke="#1a1a1a" stroke-width="0.95"/>
<circle cx="550.2" cy="90.9" r="2.35" fill="#111"/>
<rect x="344.1" y="178.6" width="218.5" height="155.20000000000002" fill="none" stroke="#2a2a2a" stroke-width="1.1"/>
<line x1="344.1" y1="333.80" x2="347.1" y2="333.80" stroke="#2a2a2a" stroke-width="0.8"/>
<line x1="562.6" y1="333.80" x2="559.6" y2="333.80" stroke="#2a2a2a" stroke-width="0.8"/>
<text transform="translate(340.80,336.60) scale(0.9,1)" font-size="6.6" font-weight="bold" text-anchor="end" fill="#222" >2628</text>
<line x1="344.1" y1="320.87" x2="345.90000000000003" y2="320.87" stroke="#2a2a2a" stroke-width="0.8"/>
<line x1="562.6" y1="320.87" x2="560.8000000000001" y2="320.87" stroke="#2a2a2a" stroke-width="0.8"/>
<line x1="344.1" y1="307.93" x2="347.1" y2="307.93" stroke="#2a2a2a" stroke-width="0.8"/>
<line x1="562.6" y1="307.93" x2="559.6" y2="307.93" stroke="#2a2a2a" stroke-width="0.8"/>
<text transform="translate(340.80,310.73) scale(0.9,1)" font-size="6.6" font-weight="bold" text-anchor="end" fill="#222" >2630</text>
<line x1="344.1" y1="295.00" x2="345.90000000000003" y2="295.00" stroke="#2a2a2a" stroke-width="0.8"/>
<line x1="562.6" y1="295.00" x2="560.8000000000001" y2="295.00" stroke="#2a2a2a" stroke-width="0.8"/>
<line x1="344.1" y1="282.07" x2="347.1" y2="282.07" stroke="#2a2a2a" stroke-width="0.8"/>
<line x1="562.6" y1="282.07" x2="559.6" y2="282.07" stroke="#2a2a2a" stroke-width="0.8"/>
<text transform="translate(340.80,284.87) scale(0.9,1)" font-size="6.6" font-weight="bold" text-anchor="end" fill="#222" >2632</text>
<line x1="344.1" y1="269.13" x2="345.90000000000003" y2="269.13" stroke="#2a2a2a" stroke-width="0.8"/>
<line x1="562.6" y1="269.13" x2="560.8000000000001" y2="269.13" stroke="#2a2a2a" stroke-width="0.8"/>
<line x1="344.1" y1="256.20" x2="347.1" y2="256.20" stroke="#2a2a2a" stroke-width="0.8"/>
<line x1="562.6" y1="256.20" x2="559.6" y2="256.20" stroke="#2a2a2a" stroke-width="0.8"/>
<text transform="translate(340.80,259.00) scale(0.9,1)" font-size="6.6" font-weight="bold" text-anchor="end" fill="#222" >2634</text>
<line x1="344.1" y1="243.27" x2="345.90000000000003" y2="243.27" stroke="#2a2a2a" stroke-width="0.8"/>
<line x1="562.6" y1="243.27" x2="560.8000000000001" y2="243.27" stroke="#2a2a2a" stroke-width="0.8"/>
<line x1="344.1" y1="230.33" x2="347.1" y2="230.33" stroke="#2a2a2a" stroke-width="0.8"/>
<line x1="562.6" y1="230.33" x2="559.6" y2="230.33" stroke="#2a2a2a" stroke-width="0.8"/>
<text transform="translate(340.80,233.13) scale(0.9,1)" font-size="6.6" font-weight="bold" text-anchor="end" fill="#222" >2636</text>
<line x1="344.1" y1="217.40" x2="345.90000000000003" y2="217.40" stroke="#2a2a2a" stroke-width="0.8"/>
<line x1="562.6" y1="217.40" x2="560.8000000000001" y2="217.40" stroke="#2a2a2a" stroke-width="0.8"/>
<line x1="344.1" y1="204.47" x2="347.1" y2="204.47" stroke="#2a2a2a" stroke-width="0.8"/>
<line x1="562.6" y1="204.47" x2="559.6" y2="204.47" stroke="#2a2a2a" stroke-width="0.8"/>
<text transform="translate(340.80,207.27) scale(0.9,1)" font-size="6.6" font-weight="bold" text-anchor="end" fill="#222" >2638</text>
<line x1="344.1" y1="191.53" x2="345.90000000000003" y2="191.53" stroke="#2a2a2a" stroke-width="0.8"/>
<line x1="562.6" y1="191.53" x2="560.8000000000001" y2="191.53" stroke="#2a2a2a" stroke-width="0.8"/>
<line x1="344.1" y1="178.60" x2="347.1" y2="178.60" stroke="#2a2a2a" stroke-width="0.8"/>
<line x1="562.6" y1="178.60" x2="559.6" y2="178.60" stroke="#2a2a2a" stroke-width="0.8"/>
<text transform="translate(340.80,181.40) scale(0.9,1)" font-size="6.6" font-weight="bold" text-anchor="end" fill="#222" >2640</text>
<line x1="344.10" y1="333.8" x2="344.10" y2="330.6" stroke="#2a2a2a" stroke-width="0.8"/>
<line x1="344.10" y1="178.6" x2="344.10" y2="181.79999999999998" stroke="#2a2a2a" stroke-width="0.8"/>
<text x="344.10" y="343.00" font-size="6.6" stroke="#222" stroke-width="0.2" text-anchor="middle" fill="#222" >0.0</text>
<line x1="362.31" y1="333.8" x2="362.31" y2="332.0" stroke="#2a2a2a" stroke-width="0.8"/>
<line x1="362.31" y1="178.6" x2="362.31" y2="180.4" stroke="#2a2a2a" stroke-width="0.8"/>
<line x1="380.52" y1="333.8" x2="380.52" y2="330.6" stroke="#2a2a2a" stroke-width="0.8"/>
<line x1="380.52" y1="178.6" x2="380.52" y2="181.79999999999998" stroke="#2a2a2a" stroke-width="0.8"/>
<text x="380.52" y="343.00" font-size="6.6" stroke="#222" stroke-width="0.2" text-anchor="middle" fill="#222" >0.2</text>
<line x1="398.73" y1="333.8" x2="398.73" y2="332.0" stroke="#2a2a2a" stroke-width="0.8"/>
<line x1="398.73" y1="178.6" x2="398.73" y2="180.4" stroke="#2a2a2a" stroke-width="0.8"/>
<line x1="416.93" y1="333.8" x2="416.93" y2="330.6" stroke="#2a2a2a" stroke-width="0.8"/>
<line x1="416.93" y1="178.6" x2="416.93" y2="181.79999999999998" stroke="#2a2a2a" stroke-width="0.8"/>
<text x="416.93" y="343.00" font-size="6.6" stroke="#222" stroke-width="0.2" text-anchor="middle" fill="#222" >0.4</text>
<line x1="435.14" y1="333.8" x2="435.14" y2="332.0" stroke="#2a2a2a" stroke-width="0.8"/>
<line x1="435.14" y1="178.6" x2="435.14" y2="180.4" stroke="#2a2a2a" stroke-width="0.8"/>
<line x1="453.35" y1="333.8" x2="453.35" y2="330.6" stroke="#2a2a2a" stroke-width="0.8"/>
<line x1="453.35" y1="178.6" x2="453.35" y2="181.79999999999998" stroke="#2a2a2a" stroke-width="0.8"/>
<text x="453.35" y="343.00" font-size="6.6" stroke="#222" stroke-width="0.2" text-anchor="middle" fill="#222" >0.6</text>
<line x1="471.56" y1="333.8" x2="471.56" y2="332.0" stroke="#2a2a2a" stroke-width="0.8"/>
<line x1="471.56" y1="178.6" x2="471.56" y2="180.4" stroke="#2a2a2a" stroke-width="0.8"/>
<line x1="489.77" y1="333.8" x2="489.77" y2="330.6" stroke="#2a2a2a" stroke-width="0.8"/>
<line x1="489.77" y1="178.6" x2="489.77" y2="181.79999999999998" stroke="#2a2a2a" stroke-width="0.8"/>
<text x="489.77" y="343.00" font-size="6.6" stroke="#222" stroke-width="0.2" text-anchor="middle" fill="#222" >0.8</text>
<line x1="507.98" y1="333.8" x2="507.98" y2="332.0" stroke="#2a2a2a" stroke-width="0.8"/>
<line x1="507.98" y1="178.6" x2="507.98" y2="180.4" stroke="#2a2a2a" stroke-width="0.8"/>
<line x1="526.18" y1="333.8" x2="526.18" y2="330.6" stroke="#2a2a2a" stroke-width="0.8"/>
<line x1="526.18" y1="178.6" x2="526.18" y2="181.79999999999998" stroke="#2a2a2a" stroke-width="0.8"/>
<text x="526.18" y="343.00" font-size="6.6" stroke="#222" stroke-width="0.2" text-anchor="middle" fill="#222" >1.0</text>
<line x1="544.39" y1="333.8" x2="544.39" y2="332.0" stroke="#2a2a2a" stroke-width="0.8"/>
<line x1="544.39" y1="178.6" x2="544.39" y2="180.4" stroke="#2a2a2a" stroke-width="0.8"/>
<line x1="562.60" y1="333.8" x2="562.60" y2="330.6" stroke="#2a2a2a" stroke-width="0.8"/>
<line x1="562.60" y1="178.6" x2="562.60" y2="181.79999999999998" stroke="#2a2a2a" stroke-width="0.8"/>
<text x="562.60" y="343.00" font-size="6.6" stroke="#222" stroke-width="0.2" text-anchor="middle" fill="#222" >1.2</text>
<text x="432.20" y="193.00" font-size="10.1" stroke="#111" stroke-width="0.25" text-anchor="start" fill="#111" >SWNT-<tspan font-style="italic">P</tspan></text>
<text x="516.20" y="205.90" font-size="18.6" font-weight="bold" text-anchor="start" fill="#111" >(D)</text>
<text transform="translate(321.6,263.3) rotate(-90)" font-size="8.65" text-anchor="middle" fill="#222" stroke="#222" stroke-width="0.2">Raman Wavenumber / cm<tspan font-size="5.5" dy="-3.2">-1</tspan></text>
<text x="357.1" y="320.0" font-size="8.6" fill="#222" stroke="#222" stroke-width="0.2" textLength="89.5" lengthAdjust="spacingAndGlyphs">Initial Slope = -15 cm<tspan font-size="5.5" dy="-3.2">-1</tspan><tspan dy="3.2"> / %</tspan></text>
<text transform="translate(418.60,356.00) scale(0.945,1)" font-size="9.1" stroke="#222" stroke-width="0.2" text-anchor="start" fill="#222" >Surface Strain / %</text>
<clipPath id="dclip"><rect x="344.1" y="178.6" width="218.5" height="155.20000000000002"/></clipPath>
<g clip-path="url(#dclip)">
<polyline points="344.10,186.42 345.92,188.31 347.74,190.18 349.56,192.04 351.38,193.89 353.20,195.72 355.03,197.55 356.85,199.36 358.67,201.16 360.49,202.94 362.31,204.72 364.13,206.48 365.95,208.23 367.77,209.96 369.59,211.69 371.41,213.40 373.23,215.10 375.05,216.78 376.88,218.45 378.70,220.11 380.52,221.76 382.34,223.39 384.16,225.02 385.98,226.62 387.80,228.22 389.62,229.80 391.44,231.37 393.26,232.93 395.08,234.47 396.90,236.00 398.73,237.52 400.55,239.02 402.37,240.51 404.19,241.99 406.01,243.45 407.83,244.90 409.65,246.34 411.47,247.76 413.29,249.17 415.11,250.57 416.93,251.95 418.75,253.32 420.58,254.67 422.40,256.02 424.22,257.34 426.04,258.66 427.86,259.96 429.68,261.25 431.50,262.52 433.32,263.78 435.14,265.02 436.96,266.25 438.78,267.47 440.60,268.67 442.43,269.86 444.25,271.04 446.07,272.20 447.89,273.35 449.71,274.48 451.53,275.60 453.35,276.70 455.17,277.79 456.99,278.86 458.81,279.93 460.63,280.97 462.45,282.00 464.28,283.02 466.10,284.02 467.92,285.01 469.74,285.99 471.56,286.94 473.38,287.89 475.20,288.82 477.02,289.73 478.84,290.63 480.66,291.52 482.48,292.39 484.30,293.24 486.12,294.08 487.95,294.91 489.77,295.72 491.59,296.52 493.41,297.30 495.23,298.06 497.05,298.81 498.87,299.55 500.69,300.27 502.51,300.97 504.33,301.66 506.15,302.33 507.98,302.99 509.80,303.63 511.62,304.26 513.44,304.87 515.26,305.47 517.08,306.05 518.90,306.62 520.72,307.17 522.54,307.70 524.36,308.22 526.18,308.72 528.00,309.21 529.83,309.68 531.65,310.13 533.47,310.57 535.29,311.00 537.11,311.40 538.93,311.80 540.75,312.17 542.57,312.53 544.39,312.87 546.21,313.20 548.03,313.51 549.85,313.81 551.67,314.08 553.50,314.35 555.32,314.59 557.14,314.82 558.96,315.03 560.78,315.23 562.60,315.41" fill="none" stroke="#222" stroke-width="1.25" stroke-dasharray="3.4,2.3"/>
<path d="M342.0,186.9 L347.79999999999995,186.9 M342.29999999999995,185.6 L342.29999999999995,188.20000000000002 M347.5,185.6 L347.5,188.20000000000002" stroke="#222" stroke-width="0.9"/>
<circle cx="344.9" cy="186.9" r="1.55" fill="#fff" stroke="#111" stroke-width="1.35"/>
<path d="M350.20000000000005,191.3 L356.0,191.3 M350.5,190.0 L350.5,192.60000000000002 M355.70000000000005,190.0 L355.70000000000005,192.60000000000002" stroke="#222" stroke-width="0.9"/>
<circle cx="353.1" cy="191.3" r="1.55" fill="#fff" stroke="#111" stroke-width="1.35"/>
<path d="M359.3,207.3 L365.09999999999997,207.3 M359.59999999999997,206.0 L359.59999999999997,208.60000000000002 M364.8,206.0 L364.8,208.60000000000002" stroke="#222" stroke-width="0.9"/>
<circle cx="362.2" cy="207.3" r="1.55" fill="#fff" stroke="#111" stroke-width="1.35"/>
<path d="M368.40000000000003,215.8 L374.2,215.8 M368.7,214.5 L368.7,217.10000000000002 M373.90000000000003,214.5 L373.90000000000003,217.10000000000002" stroke="#222" stroke-width="0.9"/>
<circle cx="371.3" cy="215.8" r="1.55" fill="#fff" stroke="#111" stroke-width="1.35"/>
<path d="M378.0,228.7 L383.79999999999995,228.7 M378.29999999999995,227.39999999999998 L378.29999999999995,230.0 M383.5,227.39999999999998 L383.5,230.0" stroke="#222" stroke-width="0.9"/>
<circle cx="380.9" cy="228.7" r="1.55" fill="#fff" stroke="#111" stroke-width="1.35"/>
<path d="M387.1,229.6 L392.9,229.6 M387.4,228.29999999999998 L387.4,230.9 M392.6,228.29999999999998 L392.6,230.9" stroke="#222" stroke-width="0.9"/>
<circle cx="390.0" cy="229.6" r="1.55" fill="#fff" stroke="#111" stroke-width="1.35"/>
<path d="M396.0,232.7 L401.79999999999995,232.7 M396.29999999999995,231.39999999999998 L396.29999999999995,234.0 M401.5,231.39999999999998 L401.5,234.0" stroke="#222" stroke-width="0.9"/>
<circle cx="398.9" cy="232.7" r="1.55" fill="#fff" stroke="#111" stroke-width="1.35"/>
<path d="M404.8,251.9 L410.59999999999997,251.9 M405.09999999999997,250.6 L405.09999999999997,253.20000000000002 M410.3,250.6 L410.3,253.20000000000002" stroke="#222" stroke-width="0.9"/>
<circle cx="407.7" cy="251.9" r="1.55" fill="#fff" stroke="#111" stroke-width="1.35"/>
<path d="M414.1,245.3 L419.9,245.3 M414.4,244.0 L414.4,246.60000000000002 M419.6,244.0 L419.6,246.60000000000002" stroke="#222" stroke-width="0.9"/>
<circle cx="417.0" cy="245.3" r="1.55" fill="#fff" stroke="#111" stroke-width="1.35"/>
<path d="M423.0,256.6 L428.79999999999995,256.6 M423.29999999999995,255.3 L423.29999999999995,257.90000000000003 M428.5,255.3 L428.5,257.90000000000003" stroke="#222" stroke-width="0.9"/>
<circle cx="425.9" cy="256.6" r="1.55" fill="#fff" stroke="#111" stroke-width="1.35"/>
<path d="M432.5,265.8 L438.29999999999995,265.8 M432.79999999999995,264.5 L432.79999999999995,267.1 M438.0,264.5 L438.0,267.1" stroke="#222" stroke-width="0.9"/>
<circle cx="435.4" cy="265.8" r="1.55" fill="#fff" stroke="#111" stroke-width="1.35"/>
<path d="M441.3,278.5 L447.09999999999997,278.5 M441.59999999999997,277.2 L441.59999999999997,279.8 M446.8,277.2 L446.8,279.8" stroke="#222" stroke-width="0.9"/>
<circle cx="444.2" cy="278.5" r="1.55" fill="#fff" stroke="#111" stroke-width="1.35"/>
<path d="M450.40000000000003,282.2 L456.2,282.2 M450.7,280.9 L450.7,283.5 M455.90000000000003,280.9 L455.90000000000003,283.5" stroke="#222" stroke-width="0.9"/>
<circle cx="453.3" cy="282.2" r="1.55" fill="#fff" stroke="#111" stroke-width="1.35"/>
<path d="M459.5,275.8 L465.29999999999995,275.8 M459.79999999999995,274.5 L459.79999999999995,277.1 M465.0,274.5 L465.0,277.1" stroke="#222" stroke-width="0.9"/>
<circle cx="462.4" cy="275.8" r="1.55" fill="#fff" stroke="#111" stroke-width="1.35"/>
<path d="M468.70000000000005,284.7 L474.5,284.7 M469.0,283.4 L469.0,286.0 M474.20000000000005,283.4 L474.20000000000005,286.0" stroke="#222" stroke-width="0.9"/>
<circle cx="471.6" cy="284.7" r="1.55" fill="#fff" stroke="#111" stroke-width="1.35"/>
<path d="M477.90000000000003,285.1 L483.7,285.1 M478.2,283.8 L478.2,286.40000000000003 M483.40000000000003,283.8 L483.40000000000003,286.40000000000003" stroke="#222" stroke-width="0.9"/>
<circle cx="480.8" cy="285.1" r="1.55" fill="#fff" stroke="#111" stroke-width="1.35"/>
<path d="M486.90000000000003,300.0 L492.7,300.0 M487.2,298.7 L487.2,301.3 M492.40000000000003,298.7 L492.40000000000003,301.3" stroke="#222" stroke-width="0.9"/>
<circle cx="489.8" cy="300.0" r="1.55" fill="#fff" stroke="#111" stroke-width="1.35"/>
<path d="M495.8,322.3 L501.59999999999997,322.3 M496.09999999999997,321.0 L496.09999999999997,323.6 M501.3,321.0 L501.3,323.6" stroke="#222" stroke-width="0.9"/>
<circle cx="498.7" cy="322.3" r="1.55" fill="#fff" stroke="#111" stroke-width="1.35"/>
<path d="M505.0,296.3 L510.79999999999995,296.3 M505.29999999999995,295.0 L505.29999999999995,297.6 M510.5,295.0 L510.5,297.6" stroke="#222" stroke-width="0.9"/>
<circle cx="507.9" cy="296.3" r="1.55" fill="#fff" stroke="#111" stroke-width="1.35"/>
<path d="M514.0,293.1 L519.8,293.1 M514.3,291.8 L514.3,294.40000000000003 M519.5,291.8 L519.5,294.40000000000003" stroke="#222" stroke-width="0.9"/>
<circle cx="516.9" cy="293.1" r="1.55" fill="#fff" stroke="#111" stroke-width="1.35"/>
<path d="M522.9,309.8 L528.6999999999999,309.8 M523.1999999999999,308.5 L523.1999999999999,311.1 M528.4,308.5 L528.4,311.1" stroke="#222" stroke-width="0.9"/>
<circle cx="525.8" cy="309.8" r="1.55" fill="#fff" stroke="#111" stroke-width="1.35"/>
<path d="M532.2,305.4 L538.0,305.4 M532.5,304.09999999999997 L532.5,306.7 M537.7,304.09999999999997 L537.7,306.7" stroke="#222" stroke-width="0.9"/>
<circle cx="535.1" cy="305.4" r="1.55" fill="#fff" stroke="#111" stroke-width="1.35"/>
<path d="M541.3000000000001,320.2 L547.1,320.2 M541.6,318.9 L541.6,321.5 M546.8000000000001,318.9 L546.8000000000001,321.5" stroke="#222" stroke-width="0.9"/>
<circle cx="544.2" cy="320.2" r="1.55" fill="#fff" stroke="#111" stroke-width="1.35"/>
</g>
</svg></body></html>
